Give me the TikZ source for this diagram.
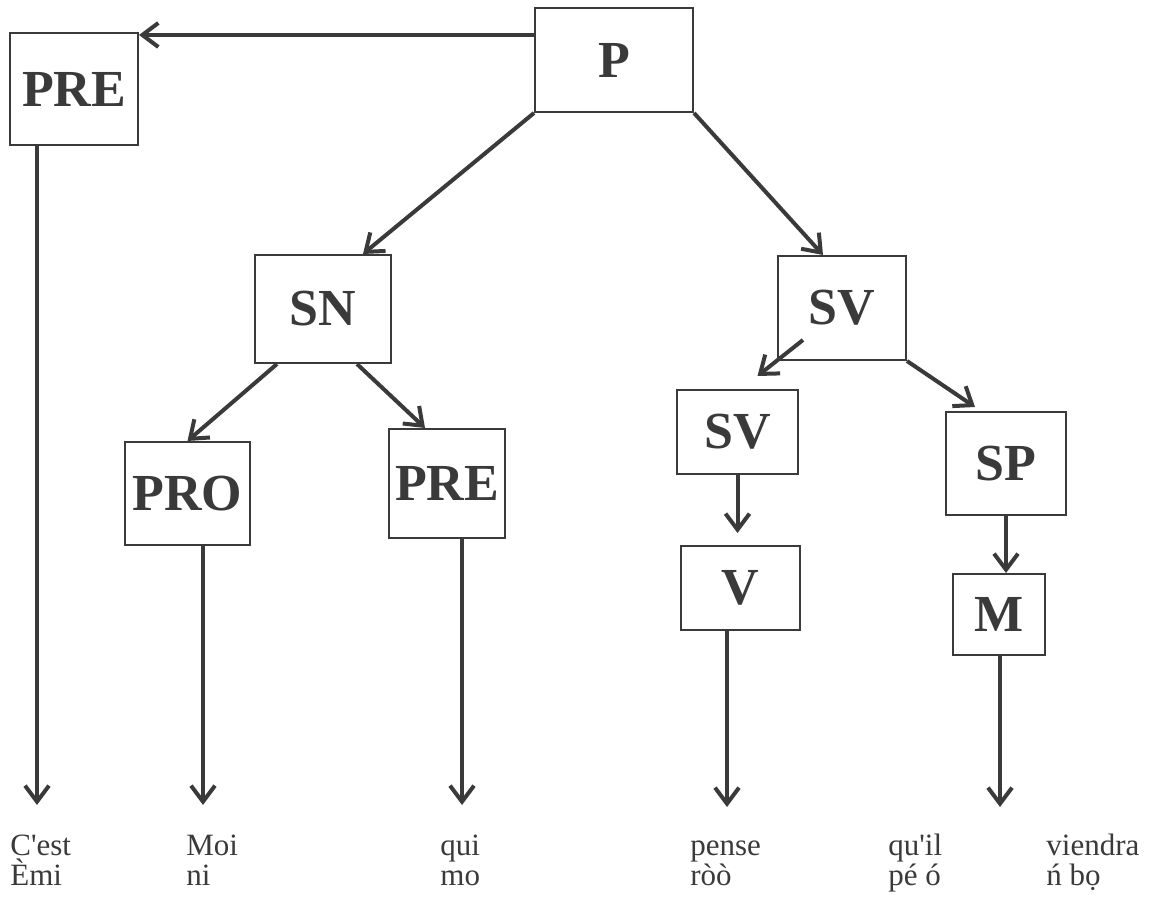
\documentclass[tikz,border=0pt]{standalone}
\usepackage{fontspec}
\setmainfont{Liberation Serif}
\usetikzlibrary{arrows.meta}
\definecolor{ink}{HTML}{3A3A3A}
\tikzset{
  syntax/.style={
    x=0.5pt, y=-0.5pt,
    cat/.style={draw=ink, line width=1pt, fill=white, text=ink,
        font=\fontsize{26}{28}\selectfont\bfseries, inner sep=0pt},
    link/.style={draw=ink, line width=2pt,
        -{Straight Barb[length=8pt,width=12pt]}},
    word/.style={text=ink, font=\fontsize{15.5}{15}\selectfont,
        align=left, anchor=base west, inner sep=0pt},
  }
}

\begin{document}
\begin{tikzpicture}[syntax]
    \useasboundingbox[fill=white] (0,0) rectangle (1153,897);
    % categories
    \node[cat, minimum width=79pt, minimum height=52pt] (P) at (614,60) {P};
    \node[cat, minimum width=64pt, minimum height=56pt] (PRE1) at (74,89) {PRE};
    \node[cat, minimum width=68pt, minimum height=54pt] (SN) at (323,309) {SN};
    \node[cat, minimum width=64pt, minimum height=52pt] (SV1) at (842,308) {SV};
    \node[cat, minimum width=62.5pt, minimum height=51.5pt] (PRO) at (187.5,493.5) {PRO};
    \node[cat, minimum width=58pt, minimum height=54.5pt] (PRE2) at (447,483.5) {PRE};
    \node[cat, minimum width=60.5pt, minimum height=42pt] (SV2) at (737.5,432) {SV};
    \node[cat, minimum width=60pt, minimum height=51.5pt] (SP) at (1006,463.5) {SP};
    \node[cat, minimum width=59.5pt, minimum height=42pt] (V) at (740.5,588) {V};
    \node[cat, minimum width=46pt, minimum height=40.5pt] (M) at (999,614.5) {M};
    % words (base = last line)
    \node[word] (w1) at (10,886) {C\textquotesingle est\\Èmi};
    \node[word] (w2) at (186,886) {Moi\\ni};
    \node[word] (w3) at (440,886) {qui\\mo};
    \node[word] (w4) at (690,886) {pense\\ròò};
    \node[word] (w5) at (888,886) {qu\textquotesingle il\\pé ó};
    \node[word] (w6) at (1046,886) {viendra\\ń bọ};
    % arrow ends above the words
    \coordinate (top) at ([yshift=-14pt]P.north west);
    \coordinate (t1) at (37,805);
    \coordinate (t2) at (203,805);
    \coordinate (t3) at (462,805);
    \coordinate (t4) at (727,807);
    \coordinate (t5) at (1000,807);
    % branches
    \draw[link] (top) -- (top -| PRE1.east);
    \draw[link] (P.south west) -- ([xshift=20pt]SN.north);
    \draw[link] (P.south east) -- ([xshift=-9.5pt]SV1.north);
    \draw[link] ([xshift=-23pt]SN.south) -- (PRO.north);
    \draw[link] ([xshift=17pt]SN.south) -- ([xshift=-11pt]PRE2.north);
    \draw[link] ([xshift=-19.5pt,yshift=-16pt]SV1.center) -- ([xshift=10pt,yshift=6.5pt]SV2.north);
    \draw[link] (SV1.south east) -- ([xshift=-15.5pt,yshift=2pt]SP.north);
    \draw[link, shorten >=6pt] (SV2.south) -- (SV2.south |- V.north);
    \draw[link] (SP.south) -- (SP.south |- M.north);
    \draw[link] (PRE1.south -| t1) -- (t1);
    \draw[link] (PRO.south -| t2) -- (t2);
    \draw[link] (PRE2.south -| t3) -- (t3);
    \draw[link] (V.south -| t4) -- (t4);
    \draw[link] (M.south -| t5) -- (t5);
\end{tikzpicture}
\end{document}
